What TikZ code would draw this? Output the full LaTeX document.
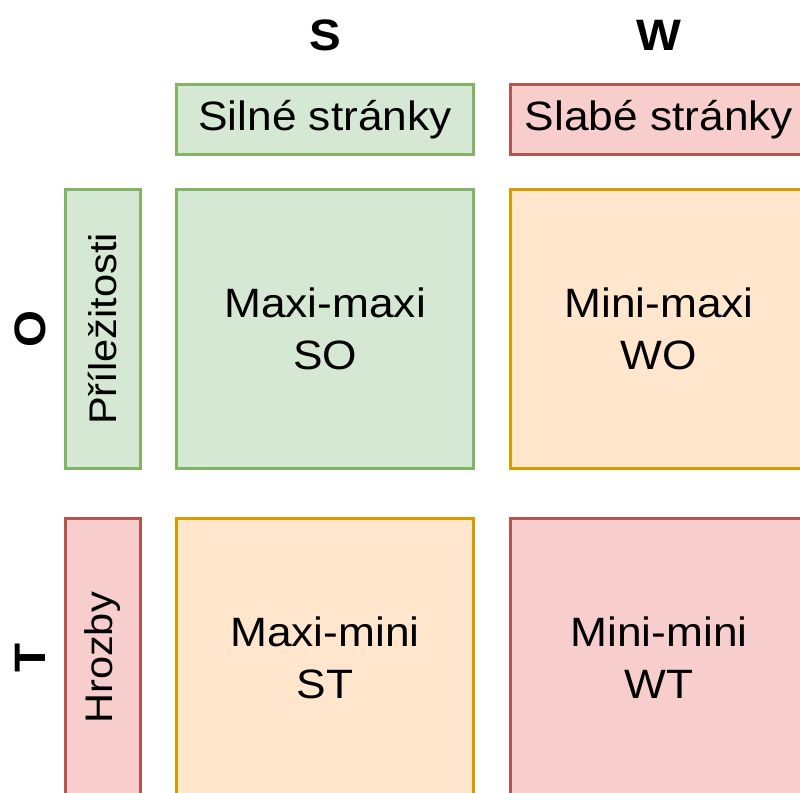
\documentclass[tikz,border=0pt]{standalone}
\usepackage{fontspec}
\setmainfont{Liberation Sans}[FakeStretch=1.08]
\definecolor{gfill}{HTML}{D5E8D4}
\definecolor{gline}{HTML}{82B366}
\definecolor{rfill}{HTML}{F8CECC}
\definecolor{rline}{HTML}{B85450}
\definecolor{ofill}{HTML}{FFE6CC}
\definecolor{oline}{HTML}{D79B00}
\tikzset{
  cell/.style={rectangle, line width=3pt, inner sep=0pt, align=center,
    font=\fontsize{41}{52}\selectfont},
  good/.style={cell, fill=gfill, draw=gline},
  bad/.style={cell, fill=rfill, draw=rline},
  mixed/.style={cell, fill=ofill, draw=oline},
  quad/.style={minimum width=297pt, minimum height=279pt},
  header/.style={minimum width=297pt, minimum height=70pt},
  side/.style={minimum width=279pt, minimum height=75pt, rotate=90,
    font=\fontsize{38.5}{46}\selectfont},
  axis/.style={font=\fontsize{44}{44}\selectfont\bfseries, inner sep=0pt}
}
\begin{document}
\begin{tikzpicture}[x=1pt, y=-1pt]
  \useasboundingbox (0,0) rectangle (800,792);

  % axis letters
  \node[axis] (S) at (325,35) {S};
  \node[axis] (W) at (659,35) {W};
  \node[axis, rotate=90] (O) at (30,329) {O};
  \node[axis, rotate=90] (T) at (30,658) {T};

  % column headers
  \node[good, header] (strong) at (325,119.5) {Silné stránky};
  \node[bad, header] (weak) at (659,119.5) {Slabé stránky};

  % row headers
  \node[good, side] (opp) at (102.5,329) {Příležitosti};
  \node[bad, side] (threat) at (102.5,658) {Hrozby};

  % strategy quadrants
  \node[good, quad] (SO) at (325,329) {Maxi-maxi\\SO};
  \node[mixed, quad] (WO) at (659,329) {Mini-maxi\\WO};
  \node[mixed, quad] (ST) at (325,658) {Maxi-mini\\ST};
  \node[bad, quad] (WT) at (659,658) {Mini-mini\\WT};
\end{tikzpicture}
\end{document}
